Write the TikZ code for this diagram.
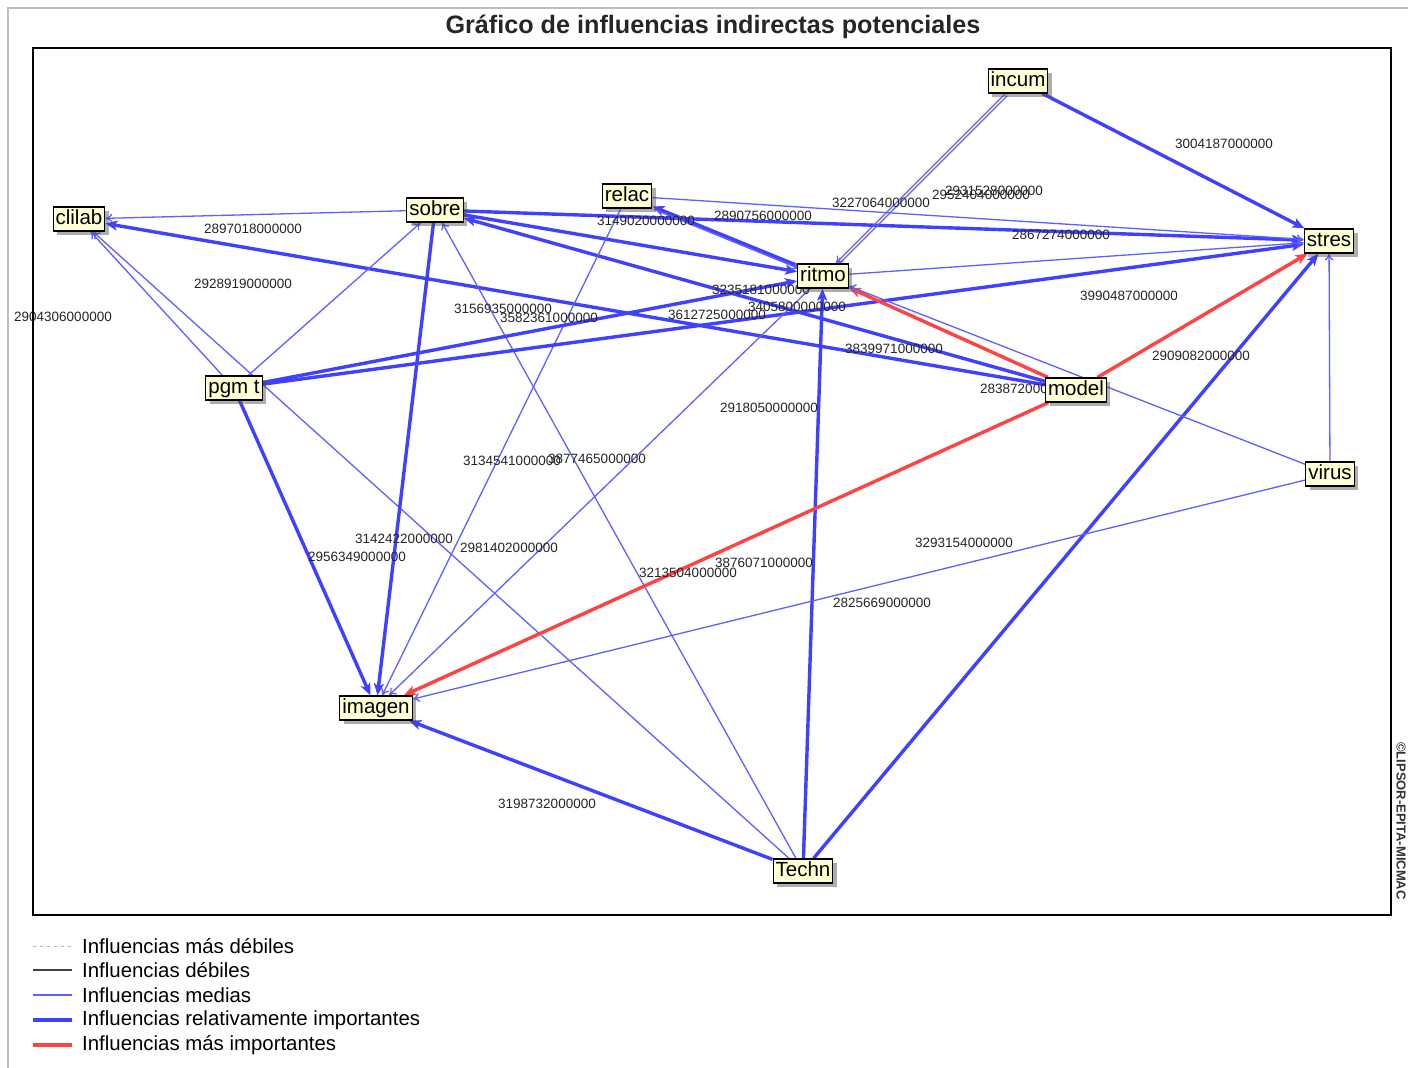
\documentclass[tikz,border=0pt]{standalone}
\usepackage{fontspec}
\setmainfont{Liberation Sans}
\usetikzlibrary{arrows.meta,shadows}
\definecolor{nodefill}{RGB}{255,255,214}
\definecolor{blueM}{RGB}{96,96,255}
\definecolor{blueT}{RGB}{64,64,255}
\definecolor{redT}{RGB}{255,66,66}
\definecolor{frameg}{RGB}{190,190,190}
\pgfdeclarelayer{bg}
\pgfdeclarelayer{edges}
\pgfdeclarelayer{labels}
\pgfsetlayers{bg,edges,labels,main}
\tikzset{
  var/.style={draw=black, line width=1.2pt, fill=nodefill,
    font=\fontsize{20.5}{20.5}\selectfont, text height=15pt, text depth=4.5pt,
    inner xsep=2.5pt, inner ysep=2.3pt,
    drop shadow={shadow xshift=4pt, shadow yshift=-4pt, fill=black!70, opacity=.45}},
  val/.style={font=\fontsize{13.5}{13.5}\selectfont, text=black!85, inner sep=0pt},
  medE/.style={draw=blueM, line width=1.3pt, -{To[length=7pt,width=9pt]}},
  relE/.style={draw=blueT, line width=3.4pt, -{Stealth[length=12pt,width=10pt,inset=3pt]}},
  topE/.style={draw=redT, line width=3.4pt, -{Stealth[length=12pt,width=10pt,inset=3pt]}},
  legtxt/.style={font=\fontsize{20.4}{20.4}\selectfont, anchor=west, inner sep=0pt},
}
\begin{document}
\begin{tikzpicture}[x=1pt,y=-1pt]
\useasboundingbox (0,0) rectangle (1408,1068);
\begin{pgfonlayer}{bg}
\fill[white] (0,0) rectangle (1408,1068);
\end{pgfonlayer}
% window frame
\draw[frameg, line width=1.5pt] (8,1068) -- (8,8) -- (1408,8);
% plot frame
\draw[black, line width=1.2pt] (33,48) rectangle (1391,915);
% title
\node[font=\fontsize{25.2}{25.2}\selectfont\bfseries, text=black!85] (title) at (713,27) {Gráfico de influencias indirectas potenciales};
% copyright
\node[rotate=-90, font=\fontsize{13}{13}\selectfont\bfseries, text=black!80, inner sep=0pt] (copy) at (1401,821) {©LIPSOR-EPITA-MICMAC};

% nodes
\node[var] (incum)  at (1018,81)  {incum};
\node[var] (clilab) at (79,219)   {clilab};
\node[var] (sobre)  at (435,210)  {sobre};
\node[var] (relac)  at (627,196)  {relac};
\node[var] (ritmo)  at (823,276)  {ritmo};
\node[var] (stres)  at (1329,241) {stres};
\node[var] (pgmt)   at (234,388)  {pgm t};
\node[var] (model)  at (1076,390) {model};
\node[var] (virus)  at (1330,474) {virus};
\node[var] (imagen) at (376,708)  {imagen};
\node[var] (techn)  at (803,871)  {Techn};

\begin{pgfonlayer}{edges}
% into clilab
\draw[medE] (sobre) -- (clilab);
\draw[relE] (model) -- (clilab);
\draw[medE] (pgmt) -- (clilab);
\draw[medE] (techn) -- (clilab);
% into sobre
\draw[medE] (pgmt) -- (sobre);
\draw[medE] (techn) -- (sobre);
\draw[relE] (model) -- (sobre);
% from sobre
\draw[relE] (sobre) -- (ritmo);
\draw[relE] (sobre) -- (imagen);
\draw[relE] (sobre) -- (stres);
% relac
\draw[relE] (ritmo) -- (relac);
\draw[medE, transform canvas={xshift=1.5pt,yshift=-3pt}] (relac) -- (ritmo);
\draw[medE] (relac) -- (stres);
\draw[medE] (relac) -- (imagen);
% incum
\draw[medE] (incum) -- (ritmo);
\draw[medE, transform canvas={xshift=2pt,yshift=-2pt}] (incum) -- (ritmo);
\draw[relE] (incum) -- (stres);
% pgm t
\draw[relE] (pgmt) -- (ritmo);
\draw[relE] (pgmt) -- (stres);
\draw[relE] (pgmt) -- (imagen);
% Techn
\draw[relE] (techn) -- (ritmo);
\draw[relE] (techn) -- (stres);
\draw[relE] (techn) -- (imagen);
% model
\draw[topE] (model) -- (ritmo);
\draw[topE] (model) -- (stres);
\draw[topE] (model) -- (imagen);
% virus
\draw[medE] (virus) -- (ritmo);
\draw[medE] (virus) -- (stres);
\draw[medE] (virus) -- (imagen);
% ritmo
\draw[medE] (ritmo) -- (stres);
\draw[medE] (ritmo) -- (imagen);
\end{pgfonlayer}

\begin{pgfonlayer}{labels}
\node[val] (l1)  at (1224,144) {3004187000000};
\node[val] (l2)  at (253,229)  {2897018000000};
\node[val] (l3)  at (243,284)  {2928919000000};
\node[val] (l4)  at (63,317)   {2904306000000};
\node[val] (l5)  at (646,221)  {3149020000000};
\node[val] (l6)  at (763,216)  {2890756000000};
\node[val] (l7)  at (881,203)  {3227064000000};
\node[val] (l8)  at (981,195)  {2952404000000};
\node[val] (l9)  at (994,191)  {2931528000000};
\node[val] (l10) at (1061,235) {2867274000000};
\node[val] (l11) at (761,290)  {3235181000000};
\node[val] (l12) at (797,307)  {3405800000000};
\node[val] (l13) at (717,315)  {3612725000000};
\node[val] (l14) at (503,309)  {3156935000000};
\node[val] (l15) at (549,318)  {3582361000000};
\node[val] (l16) at (1129,296) {3990487000000};
\node[val] (l17) at (894,349)  {3839971000000};
\node[val] (l18) at (1201,356) {2909082000000};
\node[val] (l19) at (1029,389) {2838720000000};
\node[val] (l20) at (769,408)  {2918050000000};
\node[val] (l21) at (512,461)  {3134541000000};
\node[val] (l22) at (597,459)  {3877465000000};
\node[val] (l23) at (404,539)  {3142422000000};
\node[val] (l24) at (357,557)  {2956349000000};
\node[val] (l25) at (509,548)  {2981402000000};
\node[val] (l26) at (688,573)  {3213504000000};
\node[val] (l27) at (764,563)  {3876071000000};
\node[val] (l28) at (964,543)  {3293154000000};
\node[val] (l29) at (882,603)  {2825669000000};
\node[val] (l30) at (547,804)  {3198732000000};
\end{pgfonlayer}

% legend
\draw[black!30, line width=1pt, dash pattern=on 3pt off 4pt] (33,946) -- (72,946);
\draw[black!75, line width=1.2pt] (33,970) -- (72,970);
\draw[blueM, line width=1.4pt] (33,995) -- (72,995);
\draw[blueT, line width=3.2pt] (33,1020) -- (72,1020);
\draw[redT, line width=3.2pt] (33,1045) -- (72,1045);
\node[legtxt] (g1) at (82,946)  {Influencias más débiles};
\node[legtxt] (g2) at (82,970)  {Influencias débiles};
\node[legtxt] (g3) at (82,995)  {Influencias medias};
\node[legtxt] (g4) at (82,1020) {Influencias relativamente importantes};
\node[legtxt] (g5) at (82,1045) {Influencias más importantes};
\end{tikzpicture}
\end{document}
